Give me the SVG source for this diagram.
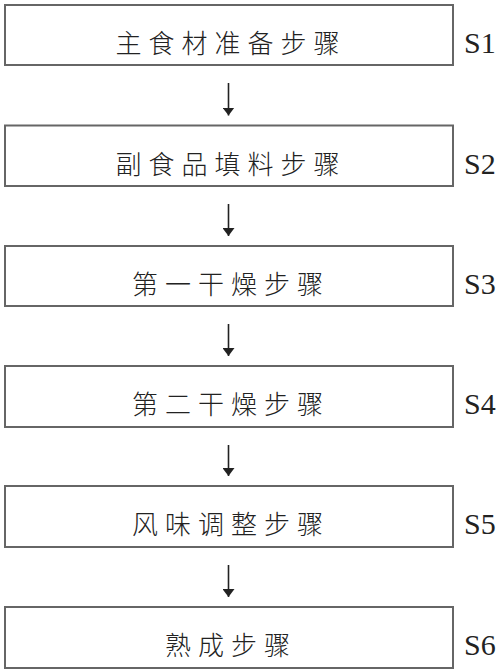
<svg xmlns="http://www.w3.org/2000/svg" width="500" height="671" viewBox="0 0 500 671">
<defs>
<style>
.box{fill:#fff;stroke:#666;stroke-width:2}
.lbl{font-family:"Noto Sans CJK SC","Noto Sans CJK JP",sans-serif;font-size:26px;font-weight:300;letter-spacing:7px;fill:#222;text-anchor:middle}
.sid{font-family:"Liberation Serif",serif;font-size:30px;fill:#222}
.conn line{stroke:#222;stroke-width:1.6}
</style>
<marker id="ah" viewBox="0 0 8 12" refX="8" refY="6" markerWidth="8" markerHeight="12" markerUnits="userSpaceOnUse" orient="auto">
<path d="M0,0 L8,6 L0,12 Z" fill="#222"/>
</marker>
</defs>
<rect width="500" height="671" fill="#fff"/>
<g id="s1"><rect class="box" x="5" y="5" width="448" height="60"/><text class="lbl" x="231" y="53">主食材准备步骤</text><text class="sid" x="464" y="53">S1</text></g>
<g id="s2"><rect class="box" x="5" y="125.5" width="448" height="60.5"/><text class="lbl" x="231" y="173.5">副食品填料步骤</text><text class="sid" x="464" y="173.5">S2</text></g>
<g id="s3"><rect class="box" x="5" y="246" width="448" height="60"/><text class="lbl" x="231" y="294">第一干燥步骤</text><text class="sid" x="464" y="294">S3</text></g>
<g id="s4"><rect class="box" x="5" y="366" width="448" height="61"/><text class="lbl" x="231" y="414">第二干燥步骤</text><text class="sid" x="464" y="414">S4</text></g>
<g id="s5"><rect class="box" x="5" y="486" width="448" height="61"/><text class="lbl" x="231" y="534">风味调整步骤</text><text class="sid" x="464" y="534">S5</text></g>
<g id="s6"><rect class="box" x="5" y="607" width="448" height="61"/><text class="lbl" x="231" y="655">熟成步骤</text><text class="sid" x="464" y="655">S6</text></g>
<g class="conn">
<line x1="228.5" y1="83" x2="228.5" y2="115.5" marker-end="url(#ah)"/>
<line x1="228.5" y1="204" x2="228.5" y2="236" marker-end="url(#ah)"/>
<line x1="228.5" y1="324" x2="228.5" y2="356" marker-end="url(#ah)"/>
<line x1="228.5" y1="445" x2="228.5" y2="476" marker-end="url(#ah)"/>
<line x1="228.5" y1="565" x2="228.5" y2="597" marker-end="url(#ah)"/>
</g>
</svg>
